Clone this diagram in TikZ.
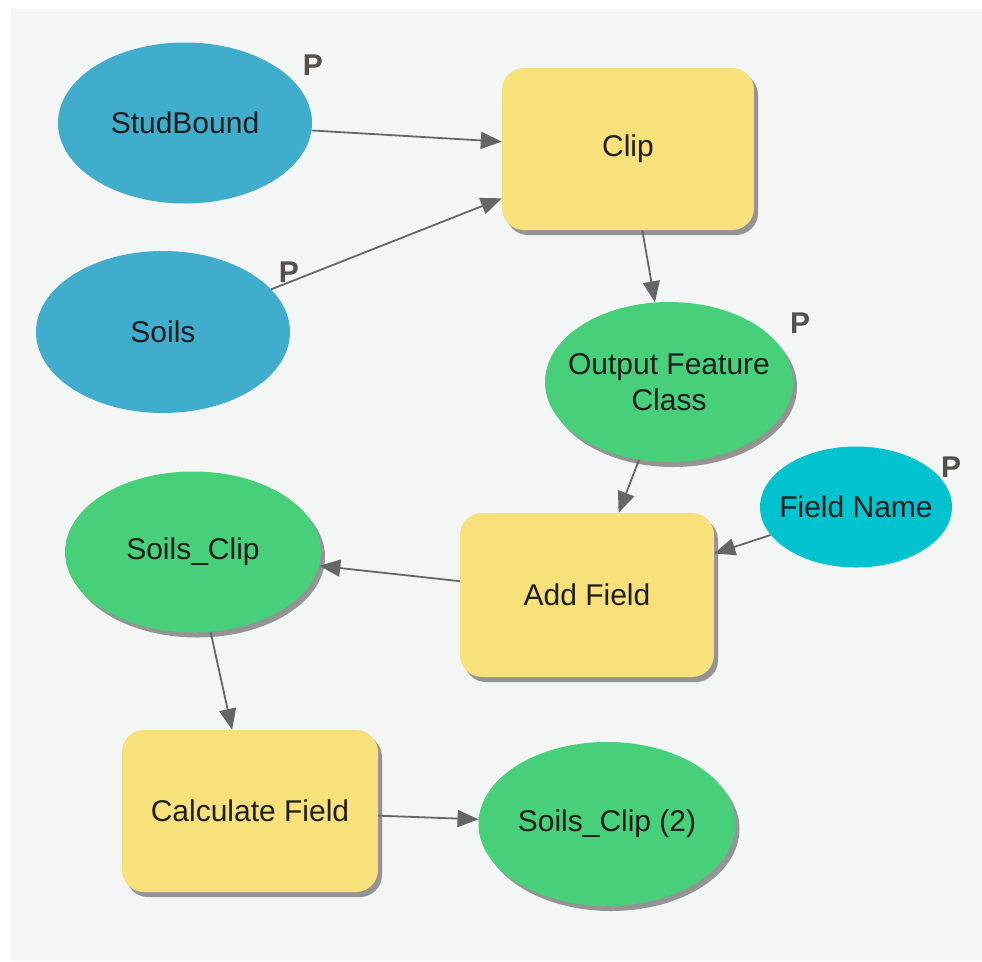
\documentclass[tikz,border=0pt]{standalone}
\usepackage{fontspec}
\setmainfont{Liberation Sans}
\usetikzlibrary{shapes.geometric,arrows.meta,shadows}
\definecolor{bgc}{HTML}{F4F6F6}
\definecolor{bluein}{HTML}{3FADCB}
\definecolor{cyanin}{HTML}{00C3CF}
\definecolor{greenout}{HTML}{47CF7A}
\definecolor{yellowtool}{HTML}{F8E17A}
\definecolor{arrowc}{HTML}{666666}
\definecolor{txtc}{HTML}{1E1E1E}
\definecolor{pc}{HTML}{55504C}
\begin{document}
\begin{tikzpicture}[x=1pt,y=-1pt,
  every node/.style={font=\fontsize{30}{36}\selectfont, text=txtc},
  ell/.style={ellipse, draw=none, inner sep=0pt, minimum width=254pt, minimum height=161pt},
  shad/.style={drop shadow={shadow xshift=4pt, shadow yshift=-5pt, fill=black!42, opacity=1}},
  tool/.style={rectangle, rounded corners=22pt, draw=none, fill=yellowtool, shad,
     minimum width=252pt, minimum height=162pt, inner sep=0pt},
  lbl/.style={align=center, inner sep=0pt},
  pmark/.style={font=\fontsize{30}{36}\selectfont\bfseries, text=pc, inner sep=0pt},
  conn/.style={draw=arrowc, line width=1.8pt, -{Triangle[length=21pt,width=17pt]}}
]
\useasboundingbox (0,0) rectangle (982,961);
\fill[bgc] (11,9) rectangle (982,961);

% input ellipses
\node[ell, fill=bluein] (stud) at (185,123) {};
\node[lbl] (studt) at (stud) {StudBound};
\node[ell, fill=bluein, minimum height=162pt] (soils) at (163,332) {};
\node[lbl] (soilst) at (soils) {Soils};
\node[ell, fill=cyanin, minimum width=192pt, minimum height=121pt] (fname) at (856,507) {};
\node[lbl] (fnamet) at (fname) {Field Name};

% tools
\node[tool] (clip) at (628,149) {Clip};
\node[tool, minimum width=254pt, minimum height=164pt] (addf) at (587,595) {Add Field};
\node[tool, minimum width=256pt, minimum height=162pt] (calc) at (250,811) {Calculate Field};

% outputs
\node[ell, fill=greenout, shad, minimum width=248pt, minimum height=160pt] (ofc) at (669,382) {};
\node[lbl] (ofct) at (ofc) {Output Feature\\Class};
\node[ell, fill=greenout, shad, minimum width=256pt, minimum height=161pt] (sclip) at (193,552) {};
\node[lbl] (sclipt) at (sclip) {Soils\_Clip};
\node[ell, fill=greenout, shad, minimum width=257pt, minimum height=164pt] (sclip2) at (607,824) {};
\node[lbl] (sclip2t) at (sclip2) {Soils\_Clip (2)};

% connectors
\draw[conn] (stud) -- (clip);
\draw[conn] (soils) -- (clip);
\draw[conn] (clip) -- (ofc);
\draw[conn] (ofc) -- (addf);
\draw[conn] (fname) -- (addf);
\draw[conn] (addf) -- (sclip);
\draw[conn] (sclip) -- (calc);
\draw[conn] (calc) -- (sclip2);

% parameter marks
\node[pmark] (p1) at (313,65) {P};
\node[pmark] (p2) at (289,272) {P};
\node[pmark] (p3) at (800,323) {P};
\node[pmark] (p4) at (951,467) {P};
\end{tikzpicture}
\end{document}
